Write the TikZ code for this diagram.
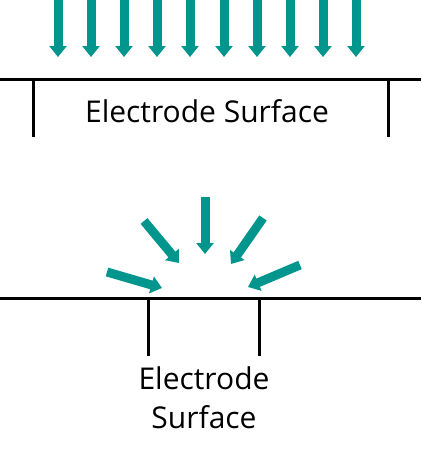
\documentclass[tikz,border=0pt]{standalone}
\usepackage{fontspec}
\setmainfont{Open Sans}
\usetikzlibrary{arrows.meta}
\definecolor{c1}{HTML}{000000}
\definecolor{c2}{HTML}{00958D}

\begin{document}
\begin{tikzpicture}[
    x=1pt, y=-1pt,
    every node/.style={font=\fontsize{30}{39}\selectfont, text=c1},
    arr/.style={-{Triangle[width=17pt, length=11pt]}, line width=9pt, color=c2},
    edge/.style={line width=3pt, color=c1},
    lab/.style={inner sep=0pt, align=center},
]
\useasboundingbox (0, 0) rectangle (422, 459);

% ================================================================ top: planar electrode
\foreach \i/\x in {1/58, 2/91, 3/124, 4/157, 5/190, 6/224, 7/257, 8/290, 9/323, 10/356}{
    \coordinate (t\i) at (\x, 0);
    \coordinate (h\i) at (\x, 57);
    \draw[arr] (t\i) -- (h\i);
}
\draw[edge] (0, 79) -- (421, 79);
\draw[edge] (33, 79) -- (33, 137);
\draw[edge] (388, 79) -- (388, 137);
\node[lab, anchor=base] (plane) at (207, 122) {Electrode Surface};

% ================================================================ bottom: microelectrode
\coordinate (a1) at (144, 221);  \coordinate (b1) at (179, 263);
\coordinate (a2) at (205, 197);  \coordinate (b2) at (205, 254);
\coordinate (a3) at (263, 218);  \coordinate (b3) at (231, 264);
\coordinate (a4) at (107, 272);  \coordinate (b4) at (162, 288);
\coordinate (a5) at (300, 265);  \coordinate (b5) at (248, 287);
\foreach \i in {1,...,5}{
    \draw[arr] (a\i) -- (b\i);
}
\draw[edge] (0, 298) -- (421, 298);
\draw[edge] (148, 298) -- (148, 356);
\draw[edge] (259, 298) -- (259, 356);
\node[lab, anchor=base] (micro) at (204, 428) {Electrode\\Surface};

\end{tikzpicture}
\end{document}
